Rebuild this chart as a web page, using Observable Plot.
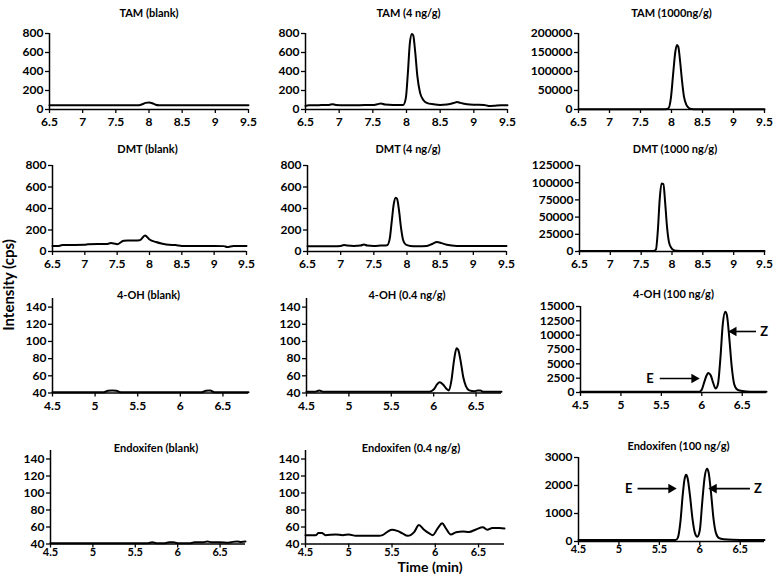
<!DOCTYPE html>
<html>
<head>
<meta charset="utf-8">
<script src="https://cdn.jsdelivr.net/npm/d3@7"></script>
<script src="https://cdn.jsdelivr.net/npm/@observablehq/plot@0.6"></script>
<style>
  html, body { margin: 0; padding: 0; background: #fff; }
  #root { position: relative; width: 773px; height: 575px; overflow: hidden; background: #fff;
          font-family: Lato, "Open Sans", sans-serif; font-weight: bold; color: #000; }
  .cell { position: absolute; }
  .ylab { position: absolute; left: 8px; top: 285px; transform: translate(-50%, -50%) rotate(-90deg);
          font-size: 15px; line-height: 15px; font-weight: bold; white-space: nowrap; }
  .xlab { position: absolute; left: 430px; top: 566px; transform: translate(-50%, -50%);
          font-size: 14px; line-height: 11px; font-weight: bold; white-space: nowrap; }
</style>
</head>
<body>
<div id="root"></div>
<script>
// ---------- data ----------
const panelTitles = ["TAM (blank)", "TAM (4 ng/g)", "TAM (1000ng/g)",
  "DMT (blank)", "DMT (4 ng/g)", "DMT (1000 ng/g)",
  "4-OH (blank)", "4-OH (0.4 ng/g)", "4-OH (100 ng/g)",
  "Endoxifen (blank)", "Endoxifen (0.4 ng/g)", "Endoxifen (100 ng/g)"];
const yAxisTitle = "Intensity (cps)";
const xAxisTitle = "Time (min)";

const xTicksLate = [6.5, 7, 7.5, 8, 8.5, 9, 9.5];
const xTicksEarly = [4.5, 5, 5.5, 6, 6.5];
const yTicksLow = [0, 200, 400, 600, 800];
const yTicksTam1000 = [0, 50000, 100000, 150000, 200000];
const yTicksDmt1000 = [0, 25000, 50000, 75000, 100000, 125000];
const yTicksTrace = [40, 60, 80, 100, 120, 140];
const yTicksOh100 = [0, 2500, 5000, 7500, 10000, 12500, 15000];
const yTicksEndo100 = [0, 1000, 2000, 3000];

const tamBlankTime = [6.5, 7, 7.5, 7.85, 7.9, 7.95, 8.0, 8.05, 8.1, 8.15, 8.5, 9, 9.5];
const tamBlankCps  = [45, 45, 45, 45, 55, 70, 74, 66, 50, 45, 45, 45, 45];

const tam4Time = [6.5, 6.55, 6.7, 6.85, 6.9, 6.95, 7.1, 7.3, 7.5, 7.57, 7.62, 7.68, 7.8, 7.95, 7.99, 8.02, 8.05, 8.08, 8.1, 8.13, 8.16, 8.2, 8.25, 8.3, 8.4, 8.5, 8.6, 8.7, 8.75, 8.8, 8.9, 9.0, 9.15, 9.22, 9.3, 9.4, 9.5];
const tam4Cps  = [38, 45, 46, 48, 56, 48, 46, 46, 47, 56, 64, 52, 47, 48, 120, 380, 700, 795, 780, 600, 360, 180, 100, 70, 55, 48, 52, 68, 80, 70, 55, 50, 48, 38, 40, 46, 45];

const tam1000Time = [6.5, 7.5, 7.9, 7.95, 7.99, 8.03, 8.06, 8.09, 8.11, 8.14, 8.17, 8.2, 8.24, 8.28, 8.32, 8.4, 9.0, 9.5];
const tam1000Cps  = [800, 800, 800, 3000, 30000, 100000, 150000, 170000, 165000, 125000, 75000, 35000, 12000, 4000, 1500, 800, 800, 800];

const dmtBlankTime = [6.5, 6.6, 6.65, 7.0, 7.05, 7.35, 7.4, 7.45, 7.5, 7.6, 7.7, 7.85, 7.93, 8.0, 8.1, 8.2, 8.3, 8.4, 8.5, 9.0, 9.15, 9.2, 9.3, 9.5];
const dmtBlankCps  = [52, 52, 60, 62, 68, 70, 78, 75, 68, 100, 102, 105, 148, 112, 88, 72, 62, 60, 52, 52, 50, 42, 52, 52];

const dmt4Time = [6.5, 6.9, 7.0, 7.05, 7.1, 7.2, 7.3, 7.35, 7.4, 7.5, 7.6, 7.7, 7.74, 7.77, 7.8, 7.83, 7.85, 7.88, 7.91, 7.94, 7.98, 8.05, 8.15, 8.3, 8.38, 8.45, 8.52, 8.6, 8.75, 9.0, 9.5];
const dmt4Cps  = [50, 50, 52, 60, 55, 52, 55, 66, 55, 52, 55, 58, 120, 280, 440, 500, 490, 380, 220, 110, 65, 52, 50, 52, 70, 88, 78, 62, 52, 52, 52];

const dmt1000Time = [6.5, 7.5, 7.7, 7.74, 7.77, 7.8, 7.83, 7.86, 7.89, 7.92, 7.95, 7.99, 8.03, 8.08, 8.2, 9.0, 9.5];
const dmt1000Cps  = [600, 600, 600, 3000, 30000, 75000, 99000, 98000, 70000, 35000, 14000, 5000, 2000, 1000, 600, 600, 600];

const ohBlankTime = [4.5, 5.1, 5.15, 5.2, 5.25, 5.3, 6.25, 6.3, 6.35, 6.4, 6.8];
const ohBlankCps  = [41, 41, 42.5, 43, 42.5, 41, 41, 42.5, 43, 41, 41];

const oh04Time = [4.5, 4.6, 4.65, 4.7, 5.5, 5.95, 6.0, 6.04, 6.07, 6.11, 6.15, 6.18, 6.21, 6.24, 6.27, 6.29, 6.32, 6.35, 6.38, 6.42, 6.48, 6.52, 6.55, 6.58, 6.8];
const oh04Cps  = [41.5, 41.5, 43, 41.5, 41.5, 41.5, 44, 50, 52.5, 50, 45, 43, 55, 78, 92, 90, 76, 58, 48, 43, 42, 43, 43, 41.5, 41.5];

const oh100Time = [4.5, 5.5, 5.97, 6.0, 6.03, 6.06, 6.08, 6.11, 6.14, 6.17, 6.2, 6.23, 6.26, 6.29, 6.31, 6.34, 6.37, 6.4, 6.44, 6.5, 6.6, 6.8];
const oh100Cps  = [150, 150, 150, 500, 1800, 3000, 3400, 3000, 1700, 700, 1500, 6000, 12000, 14100, 13500, 9500, 4500, 1500, 500, 250, 150, 150];

const endoBlankTime = [4.5, 5.5, 5.65, 5.7, 5.75, 5.85, 5.9, 5.95, 6.0, 6.15, 6.2, 6.3, 6.35, 6.4, 6.5, 6.6, 6.65, 6.7, 6.75, 6.8];
const endoBlankCps  = [41, 41, 41, 42, 41, 41, 42, 42, 41, 41, 42, 42, 43, 42, 42, 41.5, 42.5, 43, 42.5, 43];

const endo04Time = [4.5, 4.62, 4.65, 4.69, 4.73, 4.85, 4.93, 5.0, 5.08, 5.23, 5.35, 5.39, 5.45, 5.5, 5.56, 5.62, 5.68, 5.76, 5.81, 5.87, 5.93, 5.97, 6.03, 6.08, 6.12, 6.18, 6.24, 6.32, 6.39, 6.47, 6.55, 6.6, 6.66, 6.74, 6.8];
const endo04Cps  = [50.4, 50.4, 52.9, 52.9, 50.4, 51.2, 50.4, 51.2, 49.6, 49.6, 49.6, 50.4, 54.6, 56.7, 55.4, 52.5, 49.6, 54.6, 62.5, 56.7, 52.5, 50.4, 58.8, 64.5, 58.8, 51.2, 53.8, 54.6, 54.2, 57.1, 59.6, 56.7, 58.8, 58.8, 58.3];

const endo100Time = [4.5, 5.5, 5.7, 5.73, 5.76, 5.79, 5.81, 5.83, 5.85, 5.88, 5.91, 5.94, 5.97, 6.0, 6.03, 6.06, 6.09, 6.11, 6.14, 6.17, 6.2, 6.24, 6.3, 6.4, 6.6, 6.8];
const endo100Cps  = [50, 50, 50, 150, 700, 1700, 2200, 2380, 2250, 1600, 800, 300, 170, 400, 1400, 2300, 2600, 2450, 1700, 800, 300, 120, 80, 60, 50, 50];

// isomer arrows (label, label time, arrow tail time, arrow tip time, intensity level)
const ohArrowLabels = ["E", "Z"];
const ohArrowLabelTime = [5.36, 6.77];
const ohArrowFromTime = [5.48, 6.67];
const ohArrowToTime = [5.93, 6.37];
const ohArrowCps = [2440, 10640];

const endoArrowLabels = ["E", "Z"];
const endoArrowLabelTime = [5.12, 6.72];
const endoArrowFromTime = [5.23, 6.62];
const endoArrowToTime = [5.67, 6.15];
const endoArrowCps = [1890, 1890];

// ---------- layout (page pixels) ----------
const layout = [
  {x0: 49,  x1: 248, yT: 33,    yB: 109, titleY: 9,   dx: 0},
  {x0: 305, x1: 507, yT: 33,    yB: 109, titleY: 9,   dx: 2},
  {x0: 578, x1: 764, yT: 33,    yB: 109, titleY: 9,   dx: 0},
  {x0: 52,  x1: 246, yT: 165,   yB: 251, titleY: 145, dx: -2},
  {x0: 307, x1: 506, yT: 165,   yB: 251, titleY: 145, dx: 1},
  {x0: 579, x1: 764, yT: 165,   yB: 251, titleY: 145, dx: 3},
  {x0: 52,  x1: 248, yT: 297.5, yB: 392, titleY: 290, dx: -2},
  {x0: 306, x1: 501, yT: 297.5, yB: 392, titleY: 290, dx: 3},
  {x0: 580, x1: 766, yT: 306,   yB: 392, titleY: 290, dx: 0},
  {x0: 50,  x1: 245, yT: 449.5, yB: 543, titleY: 443, dx: 8},
  {x0: 305, x1: 504, yT: 449.5, yB: 543, titleY: 443, dx: 6},
  {x0: 578, x1: 764, yT: 457,   yB: 541, titleY: 442, dx: 7}
];

const series = [
  [tamBlankTime, tamBlankCps, [6.5, 9.5], [0, 800], xTicksLate, yTicksLow],
  [tam4Time, tam4Cps, [6.5, 9.5], [0, 800], xTicksLate, yTicksLow],
  [tam1000Time, tam1000Cps, [6.5, 9.5], [0, 200000], xTicksLate, yTicksTam1000],
  [dmtBlankTime, dmtBlankCps, [6.5, 9.5], [0, 800], xTicksLate, yTicksLow],
  [dmt4Time, dmt4Cps, [6.5, 9.5], [0, 800], xTicksLate, yTicksLow],
  [dmt1000Time, dmt1000Cps, [6.5, 9.5], [0, 125000], xTicksLate, yTicksDmt1000],
  [ohBlankTime, ohBlankCps, [4.5, 6.8], [40, 150], xTicksEarly, yTicksTrace],
  [oh04Time, oh04Cps, [4.5, 6.8], [40, 150], xTicksEarly, yTicksTrace],
  [oh100Time, oh100Cps, [4.5, 6.8], [0, 15000], xTicksEarly, yTicksOh100],
  [endoBlankTime, endoBlankCps, [4.5, 6.8], [40, 150], xTicksEarly, yTicksTrace],
  [endo04Time, endo04Cps, [4.5, 6.8], [40, 150], xTicksEarly, yTicksTrace],
  [endo100Time, endo100Cps, [4.5, 6.8], [0, 3000], xTicksEarly, yTicksEndo100]
];

function arrowRows(labels, lt, ft, tt, c) {
  return labels.map((l, i) => ({label: l, lt: lt[i], from: ft[i], to: tt[i], c: c[i]}));
}
const arrowsByPanel = {
  8: arrowRows(ohArrowLabels, ohArrowLabelTime, ohArrowFromTime, ohArrowToTime, ohArrowCps),
  11: arrowRows(endoArrowLabels, endoArrowLabelTime, endoArrowFromTime, endoArrowToTime, endoArrowCps)
};

// ---------- render ----------
const root = document.getElementById("root");
const ML = 62, MR = 14, MT = 34, MB = 24;

series.forEach(([time, cps, xd, yd, xt, yt], i) => {
  const L = layout[i];
  const bottomRow = i >= 9;
  const data = time.map((t, k) => ({t, c: cps[k]}));
  const marks = [
    Plot.axisY({ticks: yt, tickSize: 4, tickPadding: 2, tickFormat: d => String(d),
                fontSize: 12, fontWeight: "bold", label: null, strokeWidth: 1.3}),
    Plot.axisX({ticks: xt, tickSize: 4, tickPadding: bottomRow ? 0 : 4, tickFormat: d => String(d),
                fontSize: bottomRow ? 11 : 12, fontWeight: "bold", label: null, strokeWidth: 1.3}),
    Plot.ruleX([xd[0]], {stroke: "#000", strokeWidth: 1.5}),
    Plot.ruleY([yd[0]], {stroke: "#000", strokeWidth: 1.5}),
    Plot.line(data, {x: "t", y: "c", stroke: "#000", strokeWidth: 2, curve: "monotone-x"}),
    Plot.text([panelTitles[i]], {text: d => d, frameAnchor: "top", dy: L.titleY - L.yT, dx: L.dx,
               fontSize: 11, fontWeight: "bold", fill: "#000"})
  ];
  const arrows = arrowsByPanel[i];
  if (arrows) {
    const right = arrows.filter(d => d.to > d.from);
    const left = arrows.filter(d => d.to < d.from);
    marks.push(
      Plot.link(arrows, {x1: "from", x2: "to", y1: "c", y2: "c", stroke: "#000", strokeWidth: 1.6}),
      Plot.dot(right, {x: "to", y: "c", symbol: "triangle", r: 3.6, fill: "#000", stroke: null, rotate: 90, dx: -2}),
      Plot.dot(left, {x: "to", y: "c", symbol: "triangle", r: 3.6, fill: "#000", stroke: null, rotate: -90, dx: 2}),
      Plot.text(arrows, {x: "lt", y: "c", text: "label", fontSize: 13, fontWeight: "bold", fill: "#000"})
    );
  }
  const svg = Plot.plot({
    width: (L.x1 - L.x0) + ML + MR,
    height: (L.yB - L.yT) + MT + MB,
    marginLeft: ML, marginRight: MR, marginTop: MT, marginBottom: MB,
    x: {domain: xd},
    y: {domain: yd},
    style: {background: "transparent", fontFamily: "Lato, 'Open Sans', sans-serif", fontWeight: "bold",
            fontSize: "12px", color: "#000", overflow: "visible", maxWidth: "none"},
    marks
  });
  const cell = document.createElement("div");
  cell.className = "cell";
  cell.style.left = (L.x0 - ML) + "px";
  cell.style.top = (L.yT - MT) + "px";
  cell.appendChild(svg);
  root.appendChild(cell);
});

const yl = document.createElement("div");
yl.className = "ylab"; yl.textContent = yAxisTitle; root.appendChild(yl);
const xl = document.createElement("div");
xl.className = "xlab"; xl.textContent = xAxisTitle; root.appendChild(xl);
</script>
</body>
</html>
